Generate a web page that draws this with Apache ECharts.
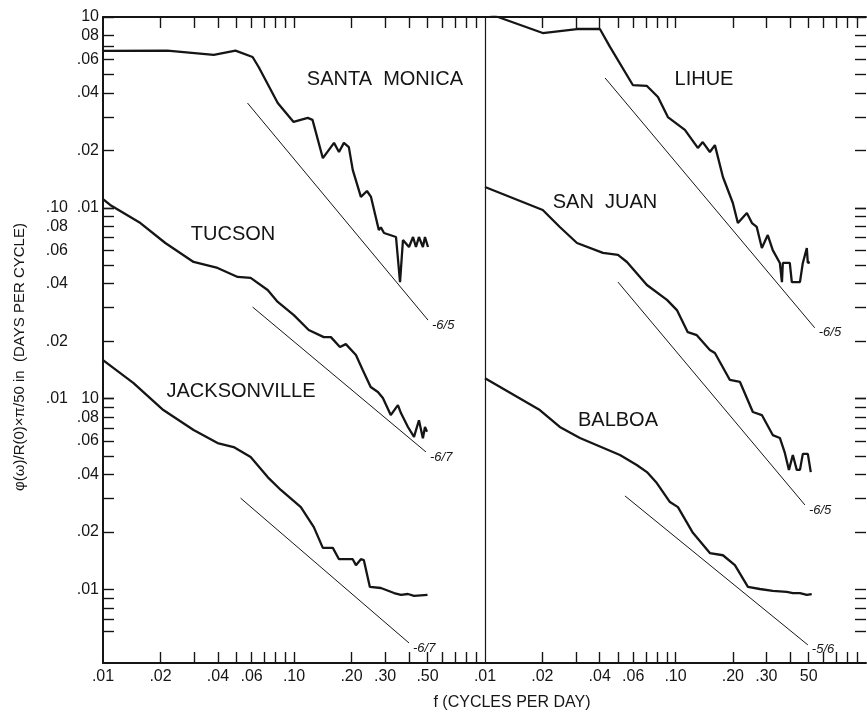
<!DOCTYPE html>
<html><head><meta charset="utf-8">
<script src="https://cdn.jsdelivr.net/npm/echarts@6/dist/echarts.min.js"></script>
<style>html,body{margin:0;padding:0;background:#fff}#c{width:867px;height:714px}</style>
</head><body><div id="c"></div>
<script>
// ---------------- data ----------------
const xTickValues = [0.02,0.03,0.04,0.05,0.06,0.07,0.08,0.09,0.1,0.2,0.3,0.4,0.5,0.6,0.7,0.8,0.9];
const xLabelValues = [0.01,0.02,0.04,0.06,0.1,0.2,0.3,0.5];
const xLabelsLeft  = ['.01','.02','.04','.06','.10','.20','.30','.50'];
const xLabelsRight = ['.01','.02','.04','.06','.10','.20','.30','50'];

const yLabelValues = [0.1,0.08,0.06,0.04,0.02,0.01];
const yLabelsTop = ['10','08','.06','.04','.02','.01'];
const yLabelsMid = ['.10','.08','.06','.04','.02','.01'];
const yLabelsLow = ['10','.08','.06','.04','.02','.01'];
const yTicksTop = [0.1,0.08,0.07,0.06,0.05,0.04,0.03,0.02,0.01];
const yTicksMid = [0.1,0.09,0.08,0.07,0.06,0.05,0.04,0.03,0.02,0.01];
const yTicksLow = [0.1,0.09,0.08,0.07,0.06,0.05,0.04,0.03,0.02,0.01,0.009,0.008,0.007,0.006];

// station spectra: [frequency (cycles/day), spectral value on the station's own scale]
const santaMonica = [[0.01,0.0664],[0.0217,0.0666],[0.038,0.0633],[0.0494,0.0666],[0.0607,0.0617],[0.0653,0.0547],[0.0822,0.0354],[0.0995,0.0282],[0.118,0.0296],[0.125,0.0289],[0.1416,0.0182],[0.162,0.0219],[0.172,0.0196],[0.1825,0.0219],[0.1937,0.0208],[0.203,0.0158],[0.224,0.0114],[0.241,0.01225],[0.253,0.0114],[0.278,0.00765],[0.285,0.0079],[0.296,0.00738],[0.342,0.00703],[0.359,0.00408],[0.372,0.00678],[0.40,0.00623],[0.42,0.00703],[0.435,0.00623],[0.451,0.00703],[0.473,0.00623],[0.485,0.00703],[0.503,0.00623]];
const tucson = [[0.01,0.111],[0.0109,0.1035],[0.0157,0.0832],[0.0212,0.0654],[0.0298,0.052],[0.0398,0.0484],[0.0507,0.0434],[0.0593,0.0429],[0.0728,0.0371],[0.0822,0.0321],[0.0998,0.0274],[0.1194,0.0229],[0.1432,0.021],[0.156,0.021],[0.174,0.01864],[0.1868,0.0193],[0.211,0.01694],[0.229,0.01413],[0.252,0.0115],[0.275,0.01083],[0.292,0.01007],[0.321,0.0082],[0.35,0.00925],[0.363,0.0084],[0.395,0.0071],[0.425,0.0063],[0.451,0.0077],[0.473,0.0062],[0.485,0.0071],[0.497,0.0067]];
const jacksonville = [[0.01,0.159],[0.0144,0.1208],[0.0207,0.0871],[0.0298,0.0685],[0.0398,0.0585],[0.0483,0.0557],[0.0593,0.0494],[0.0728,0.0388],[0.0853,0.0332],[0.1086,0.027],[0.127,0.0212],[0.1416,0.0165],[0.1597,0.0165],[0.172,0.0144],[0.203,0.0144],[0.211,0.0134],[0.224,0.0144],[0.232,0.01425],[0.2496,0.0103],[0.285,0.01017],[0.334,0.00957],[0.363,0.00935],[0.395,0.00946],[0.425,0.00925],[0.50,0.00935]];
const lihue = [[0.01,0.106],[0.0117,0.1],[0.0201,0.0824],[0.0304,0.0865],[0.0401,0.0865],[0.0453,0.0697],[0.0597,0.044],[0.0708,0.0435],[0.0809,0.0381],[0.0912,0.0299],[0.112,0.0256],[0.131,0.0206],[0.139,0.0221],[0.1515,0.0196],[0.161,0.0213],[0.1774,0.0145],[0.2,0.0106],[0.2125,0.00832],[0.237,0.0094],[0.252,0.00832],[0.267,0.00794],[0.284,0.00615],[0.305,0.0072],[0.324,0.006],[0.353,0.00514],[0.362,0.00408],[0.366,0.00514],[0.398,0.00514],[0.408,0.00408],[0.45,0.00408],[0.466,0.00514],[0.489,0.00615],[0.495,0.00514],[0.507,0.00519]];
const sanJuan = [[0.01,0.1285],[0.0201,0.0974],[0.0247,0.0793],[0.0304,0.0654],[0.0416,0.058],[0.0499,0.0566],[0.0556,0.052],[0.0708,0.0394],[0.0902,0.0329],[0.1017,0.0291],[0.116,0.0223],[0.1294,0.0215],[0.1515,0.018],[0.161,0.01734],[0.193,0.01252],[0.218,0.01222],[0.2547,0.00851],[0.284,0.0082],[0.324,0.00644],[0.353,0.00622],[0.375,0.00519],[0.394,0.00423],[0.413,0.00506],[0.433,0.00423],[0.45,0.00423],[0.466,0.00513],[0.495,0.00513],[0.513,0.00412]];
const balboa = [[0.01,0.128],[0.0194,0.0871],[0.0247,0.071],[0.0315,0.0622],[0.0511,0.0506],[0.0626,0.0449],[0.0708,0.0412],[0.0798,0.0361],[0.0935,0.0287],[0.103,0.027],[0.1234,0.0198],[0.1515,0.0155],[0.1774,0.0151],[0.205,0.0134],[0.24,0.0103],[0.277,0.01005],[0.324,0.00982],[0.384,0.0097],[0.413,0.00957],[0.45,0.00957],[0.489,0.00935],[0.519,0.00946]];

// reference slope lines
const santaMonicaRef = [[0.0571,0.0354],[0.503,0.00258]];
const tucsonRef = [[0.0607,0.0302],[0.491,0.00525]];
const jacksonvilleRef = [[0.0525,0.0301],[0.400,0.00524]];
const lihueRef = [[0.0427,0.0479],[0.538,0.00235]];
const sanJuanRef = [[0.0499,0.0408],[0.478,0.00277]];
const balboaRef = [[0.0543,0.0309],[0.495,0.00512]];

const stationNames = ['SANTA  MONICA','TUCSON','JACKSONVILLE','LIHUE','SAN  JUAN','BALBOA'];
const slopeLabels = ['-6/5','-6/7','-6/7','-6/5','-6/5','-5/6'];

// ---------------- chart ----------------
const INK = '#151515';
const FONT = '"Liberation Sans", Arial, sans-serif';
const DECADES = 3.3857;           // vertical span of the frame in decades
const yTopMax = [0.1, 1, 10];     // top-of-frame value for each of the three stacked scales

function lookup(values, texts) {
  return function (v) {
    for (let i = 0; i < values.length; i++) {
      if (Math.abs(Math.log10(v) - Math.log10(values[i])) < 1e-6) return texts[i];
    }
    return '';
  };
}

function xAxisDef(gridIndex, position, texts) {
  return {
    type: 'log', logBase: 10, gridIndex, position, min: 0.01, max: 1,
    axisLine: { show: true, onZero: false, lineStyle: { color: INK, width: 2 } },
    axisTick: { show: true, inside: true, length: 11, customValues: xTickValues, lineStyle: { color: INK, width: 1.4 } },
    axisLabel: texts ? { show: true, customValues: xLabelValues, formatter: lookup(xLabelValues, texts), margin: 6, fontSize: 16, fontFamily: FONT, color: INK } : { show: false },
    splitLine: { show: false }, minorTick: { show: false }
  };
}

const labelSets = [yLabelsTop, yLabelsMid, yLabelsLow];
const tickSets = [yTicksTop, yTicksMid, yTicksLow];

function yAxisDef(gridIndex, position, set, withLabels, withLine) {
  const maxV = yTopMax[set];
  return {
    type: 'log', logBase: 10, gridIndex, position,
    min: maxV * Math.pow(10, -DECADES), max: maxV,
    axisLine: { show: withLine, onZero: false, lineStyle: { color: INK, width: 2 } },
    axisTick: { show: true, inside: true, length: 11, customValues: tickSets[set], lineStyle: { color: INK, width: 1.4 } },
    axisLabel: withLabels ? { show: true, customValues: yLabelValues, formatter: lookup(yLabelValues, labelSets[set]), margin: set === 1 ? 35 : 4, fontSize: 16, fontFamily: FONT, color: INK } : { show: false },
    splitLine: { show: false }, minorTick: { show: false }
  };
}

const xAxes = [
  xAxisDef(0, 'bottom', xLabelsLeft),
  xAxisDef(0, 'top', null),
  xAxisDef(1, 'bottom', xLabelsRight),
  xAxisDef(1, 'top', null)
];
const yAxes = [
  yAxisDef(0, 'left', 0, true, true),
  yAxisDef(0, 'left', 1, true, false),
  yAxisDef(0, 'left', 2, true, false),
  { type: 'log', gridIndex: 0, position: 'right', min: yTopMax[0] * Math.pow(10, -DECADES), max: yTopMax[0],
    axisLine: { show: true, onZero: false, lineStyle: { color: INK, width: 1.2 } }, axisTick: { show: false }, axisLabel: { show: false }, splitLine: { show: false } },
  yAxisDef(1, 'right', 0, false, false),
  yAxisDef(1, 'right', 1, false, false),
  yAxisDef(1, 'right', 2, false, false)
];

const curves = [santaMonica, tucson, jacksonville, lihue, sanJuan, balboa];
const refs = [santaMonicaRef, tucsonRef, jacksonvilleRef, lihueRef, sanJuanRef, balboaRef];

const series = [];
curves.forEach((data, i) => {
  const grid = i < 3 ? 0 : 1;
  const set = i % 3;
  const xi = grid * 2;
  const yi = grid === 0 ? set : 4 + set;
  series.push({
    type: 'line', name: stationNames[i], data, xAxisIndex: xi, yAxisIndex: yi,
    symbol: 'none', smooth: false, clip: true,
    lineStyle: { color: INK, width: 2.3 }, silent: true
  });
  series.push({
    type: 'line', name: stationNames[i] + ' ref', data: refs[i], xAxisIndex: xi, yAxisIndex: yi,
    symbol: 'none', clip: false,
    lineStyle: { color: INK, width: 1 }, silent: true,
    endLabel: { show: true, formatter: slopeLabels[i], fontSize: 13, fontStyle: 'italic', fontFamily: FONT, color: INK, distance: 4, offset: [0, 5] }
  });
});

const namePos = [[385,79],[233,234],[241,391],[704,79],[605,202],[618,420]];
const graphics = stationNames.map((t, i) => ({
  type: 'text', x: namePos[i][0], y: namePos[i][1],
  style: { text: t, fontSize: 20, fontFamily: FONT, fill: INK, align: 'center', verticalAlign: 'middle' }
}));
graphics.push({
  type: 'text', x: 512, y: 703,
  style: { text: 'f (CYCLES PER DAY)', fontSize: 16, fontFamily: FONT, fill: INK, align: 'center', verticalAlign: 'middle' }
});
graphics.push({
  type: 'text', x: 20, y: 357, rotation: Math.PI / 2,
  style: { text: 'φ(ω)/R(0)×π/50 in  (DAYS PER CYCLE)', fontSize: 15, fontFamily: FONT, fill: INK, align: 'center', verticalAlign: 'middle' }
});

const chart = echarts.init(document.getElementById('c'), null, { renderer: 'canvas' });
chart.setOption({
  animation: false,
  backgroundColor: '#ffffff',
  grid: [
    { left: 103, top: 17, width: 382, height: 646, containLabel: false },
    { left: 485, top: 17, width: 381, height: 646, containLabel: false }
  ],
  xAxis: xAxes,
  yAxis: yAxes,
  series,
  graphic: graphics
});
</script>
</body></html>
